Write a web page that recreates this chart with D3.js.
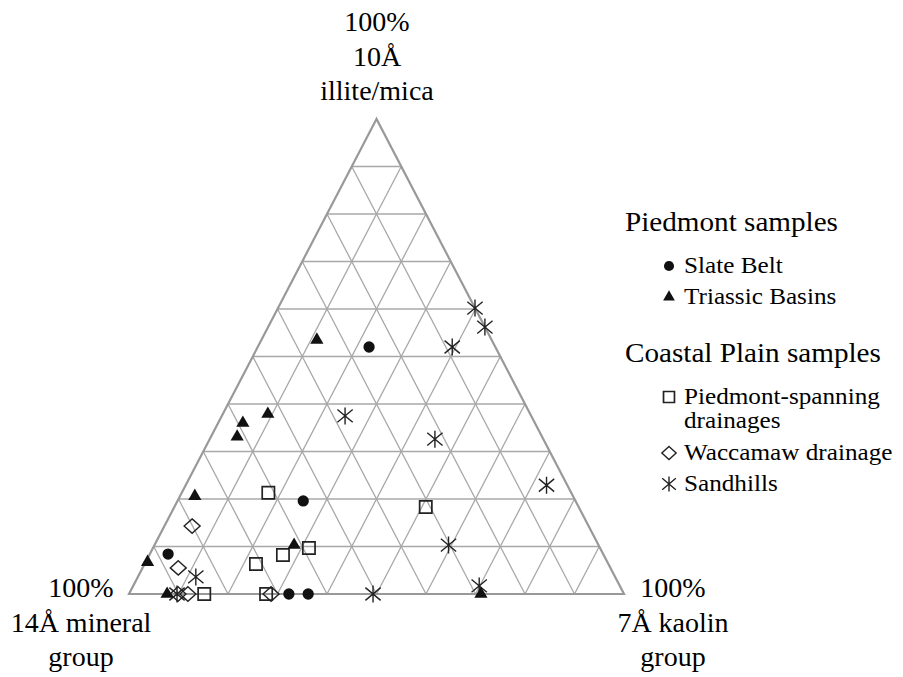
<!DOCTYPE html>
<html>
<head>
<meta charset="utf-8">
<script src="https://cdn.jsdelivr.net/npm/d3@7"></script>
<style>
  body { margin: 0; background: #fff; }
  text { font-family: "Liberation Serif", "Times New Roman", serif; fill: #000; }
</style>
</head>
<body>
<script>
// ternary data: [illite/mica %, 7A kaolin %, 14A mineral %]
var slateBelt = [[52, 22.5, 25.5], [19.6, 25.4, 55], [8.4, 3.7, 87.9], [0, 32.3, 67.7], [0, 36.2, 63.8]];
var triassicBasins = [[53.5, 11.2, 35.3], [37.9, 9.1, 53], [36, 5, 59], [33.1, 5.3, 61.6], [20.6, 3, 76.4],
    [6.7, 0.4, 92.9], [10.3, 28.2, 61.5], [0, 7.7, 92.3], [0, 71.1, 28.9]];
var piedmontSpanning = [[21.3, 17.5, 61.2], [18.3, 50.8, 30.9], [9.7, 31.5, 58.8], [8.2, 27, 64.8],
    [6.3, 22.5, 71.2], [0, 15.2, 84.8], [0, 27.7, 72.3]];
var waccamaw = [[14.3, 5.6, 80.1], [5.5, 7.2, 87.3], [0, 11.9, 88.1], [0, 28.7, 71.3], [0, 9.9, 90.1]];
var sandhills = [[60.2, 39.8, 0], [56.2, 43.8, 0], [52, 39.3, 8.7], [37.5, 24.9, 37.6], [32.6, 45.5, 21.9],
    [22.9, 72.9, 4.2], [10.3, 59.4, 30.3], [1.7, 69.9, 28.4], [0, 49.3, 50.7], [3.6, 11.7, 84.7], [0, 9.7, 90.3]];

var gridTicks = [10, 20, 30, 40, 50, 60, 70, 80, 90];

var apexLabel = ["100%", "10\u00C5", "illite/mica"];
var leftLabel = ["100%", "14\u00C5 mineral", "group"];
var rightLabel = ["100%", "7\u00C5 kaolin", "group"];

var legendGroups = [
    {title: "Piedmont samples", items: [["circle", ["Slate Belt"]], ["triangle", ["Triassic Basins"]]]},
    {title: "Coastal Plain samples", items: [["square", ["Piedmont-spanning", "drainages"]],
        ["diamond", ["Waccamaw drainage"]], ["star", ["Sandhills"]]]}
];

var width = 903, height = 677;

var svg = d3.select("body").append("svg")
    .attr("width", width)
    .attr("height", height);

// horizontal position is kaolin + illite/2, vertical is illite
var x = d3.scaleLinear().domain([0, 100]).range([129, 624]);
var y = d3.scaleLinear().domain([0, 100]).range([594, 119]);

function px(d) { return x(d[1] + d[0] / 2); }
function py(d) { return y(d[0]); }

var grid = svg.append("g");

// lines of constant illite
gridTicks.forEach(function(t) {
    grid.append("line")
        .attr("x1", px([t, 0, 100 - t])).attr("y1", py([t, 0]))
        .attr("x2", px([t, 100 - t, 0])).attr("y2", py([t, 0]))
        .attr("stroke", "#a8a8a8").attr("stroke-width", 1.6);
});
// lines of constant kaolin
gridTicks.forEach(function(t) {
    grid.append("line")
        .attr("x1", px([0, t, 100 - t])).attr("y1", py([0]))
        .attr("x2", px([100 - t, t, 0])).attr("y2", py([100 - t]))
        .attr("stroke", "#a8a8a8").attr("stroke-width", 1.3);
});
// lines of constant 14A mineral
gridTicks.forEach(function(t) {
    grid.append("line")
        .attr("x1", px([0, 100 - t, t])).attr("y1", py([0]))
        .attr("x2", px([100 - t, 0, t])).attr("y2", py([100 - t]))
        .attr("stroke", "#a8a8a8").attr("stroke-width", 1.3);
});

// outer triangle
var corners = [[100, 0, 0], [0, 0, 100], [0, 100, 0]];
svg.append("path")
    .attr("d", d3.line().x(px).y(py)(corners) + "Z")
    .attr("fill", "none")
    .attr("stroke", "#999")
    .attr("stroke-width", 2.2);

// custom marker shapes
var diamondShape = {
    draw: function(ctx, size) {
        var r = Math.sqrt(size) / 2;
        ctx.moveTo(0, -r * 0.9);
        ctx.lineTo(r, 0);
        ctx.lineTo(0, r * 0.9);
        ctx.lineTo(-r, 0);
        ctx.closePath();
    }
};
var starShape = {
    draw: function(ctx, size) {
        var r = Math.sqrt(size) / 2;
        ctx.moveTo(0, -r); ctx.lineTo(0, r);
        ctx.moveTo(-r * 0.9, -r * 0.75); ctx.lineTo(r * 0.9, r * 0.75);
        ctx.moveTo(-r * 0.9, r * 0.75); ctx.lineTo(r * 0.9, -r * 0.75);
    }
};

var markerStyle = {
    circle:   {type: d3.symbolCircle, size: 100, fill: "#111", stroke: "none", sw: 0},
    triangle: {type: d3.symbolTriangle, size: 75, fill: "#111", stroke: "none", sw: 0},
    square:   {type: d3.symbolSquare, size: 150, fill: "none", stroke: "#222", sw: 1.7},
    diamond:  {type: diamondShape, size: 256, fill: "none", stroke: "#222", sw: 1.4},
    star:     {type: starShape, size: 289, fill: "none", stroke: "#222", sw: 1.4}
};

function drawMarkers(data, kind) {
    var m = markerStyle[kind];
    svg.append("g").selectAll("path")
        .data(data)
        .enter().append("path")
        .attr("transform", function(d) { return "translate(" + px(d) + "," + py(d) + ")"; })
        .attr("d", d3.symbol().type(m.type).size(m.size))
        .attr("fill", m.fill)
        .attr("stroke", m.stroke)
        .attr("stroke-width", m.sw);
}

drawMarkers(waccamaw, "diamond");
drawMarkers(piedmontSpanning, "square");
drawMarkers(sandhills, "star");
drawMarkers(slateBelt, "circle");
drawMarkers(triassicBasins, "triangle");

// corner labels
function cornerLabel(lines, cx, baseline) {
    svg.append("g").selectAll("text")
        .data(lines)
        .enter().append("text")
        .attr("x", cx)
        .attr("y", function(d, i) { return baseline + i * 34.5; })
        .attr("text-anchor", "middle")
        .style("font-size", "28px")
        .text(function(d) { return d; });
}
cornerLabel(apexLabel, 377, 31);
cornerLabel(leftLabel, 81, 597);
cornerLabel(rightLabel, 673, 597);

// legend (text a little wider than the installed serif, so stretch it)
var legendY = [231, 362];
legendGroups.forEach(function(g, gi) {
    svg.append("text")
        .attr("transform", "translate(625," + legendY[gi] + ") scale(1.08,1)")
        .style("font-size", "27px")
        .text(g.title);
    var rowY = legendY[gi] + 42;
    g.items.forEach(function(item) {
        var m = markerStyle[item[0]];
        svg.append("path")
            .attr("transform", "translate(669," + (rowY - 7) + ")")
            .attr("d", d3.symbol().type(m.type).size(m.size * 0.8))
            .attr("fill", m.fill)
            .attr("stroke", m.stroke)
            .attr("stroke-width", m.sw);
        item[1].forEach(function(line, li) {
            svg.append("text")
                .attr("transform", "translate(684," + (rowY + li * 24) + ") scale(1.12,1)")
                .style("font-size", "22.5px")
                .text(line);
        });
        rowY += 31 + (item[1].length - 1) * 25;
    });
});
</script>
</body>
</html>
